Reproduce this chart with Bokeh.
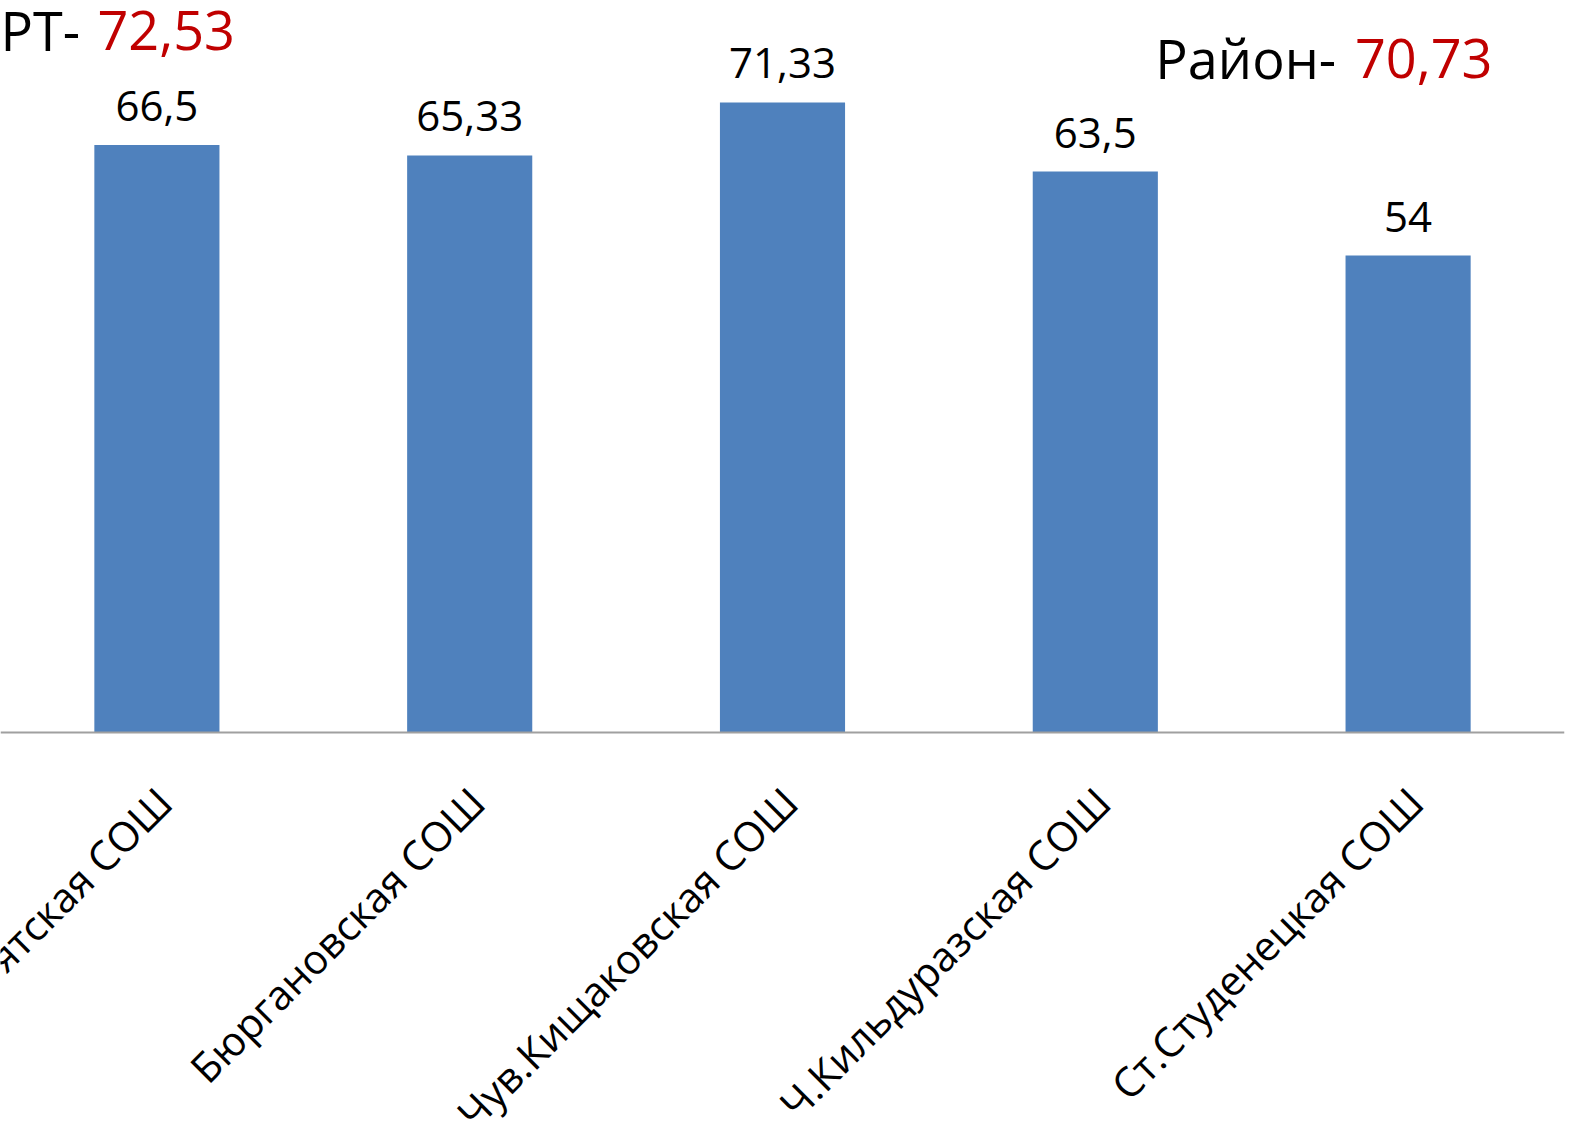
import math
from bokeh.plotting import figure
from bokeh.models import Range1d, ColumnDataSource, Span
from bokeh.core.properties import value
from bokeh.embed import file_html
from bokeh.resources import INLINE

schools = ["ятская СОШ", "Бюргановская СОШ", "Чув.Кищаковская СОШ", "Ч.Кильдуразская СОШ", "Ст.Студенецкая СОШ"]
scores = [66.5, 65.33, 71.33, 63.5, 54]
score_labels = ["66,5", "65,33", "71,33", "63,5", "54"]
rt_label, rt_value = "РТ-", "72,53"
district_label, district_value = "Район-", "70,73"

FONT = "Open Sans"
W, H = 1577, 1121

xs = [i + 0.5 for i in range(len(schools))]
src = ColumnDataSource(dict(x=xs, y=scores, lab=score_labels, base=[0] * len(xs), name=schools))

# frame covers whole canvas; value axis baseline (0) sits 389px above the bottom
p = figure(width=W, height=H, output_backend="svg", toolbar_location=None,
           x_range=Range1d(0, len(schools)), y_range=Range1d(-44.04, 82.87),
           min_border_left=0, min_border_right=13, min_border_top=0, min_border_bottom=0,
           x_axis_location=None, y_axis_location=None)
p.outline_line_color = None
p.xgrid.visible = False
p.ygrid.visible = False
p.background_fill_color = "white"
p.border_fill_color = "white"

p.vbar(x="x", top="y", width=0.4, bottom=0, source=src, fill_color="#4f81bd", line_color=None)
p.text(x="x", y="y", text="lab", source=src, y_offset=-39, text_align="center",
       text_baseline="alphabetic", text_font=value(FONT), text_font_size="42px", text_color="black")

# category axis line
p.add_layout(Span(location=0, dimension="width", line_color="#a0a0a0", line_width=2))

# category labels, rotated 45 degrees, ending under each bar
p.text(x="x", y="base", text="name", source=src, angle=math.pi / 4,
       text_align="right", text_baseline="alphabetic",
       x_offset=7, y_offset=62, text_font=value(FONT),
       text_font_size="41px", text_color="black")

# summary texts
kw = dict(text_font=value(FONT), text_font_size="54px", text_baseline="alphabetic",
          text_align="left", y_offset=-17)
p.text(x=[0.0], y=[77.55], text=[rt_label], text_color="black", **kw)
p.text(x=[0.31], y=[77.55], text=[rt_value], text_color="#c00000", **kw)
p.text(x=[3.692], y=[74.38], text=[district_label], text_color="black", **kw)
p.text(x=[4.33], y=[74.38], text=[district_value], text_color="#c00000", **kw)

open("out.html", "w").write(file_html(p, INLINE))
